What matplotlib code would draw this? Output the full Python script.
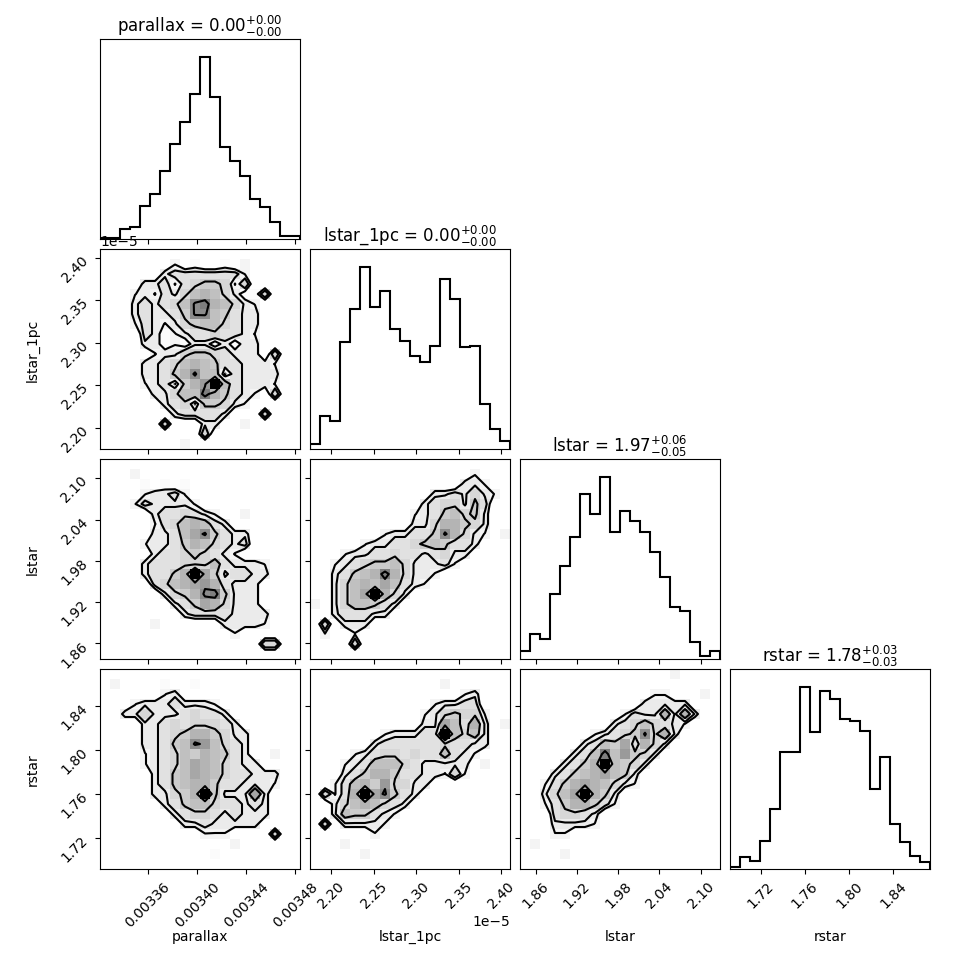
import numpy as np
import matplotlib
matplotlib.use("Agg")
import matplotlib.pyplot as plt
from matplotlib.colors import PowerNorm

names = ["parallax", "lstar_1pc", "lstar", "rstar"]
titles = [r"parallax = $0.00_{-0.00}^{+0.00}$",
          r"lstar_1pc = $0.00_{-0.00}^{+0.00}$",
          r"lstar = $1.97_{-0.05}^{+0.06}$",
          r"rstar = $1.78_{-0.03}^{+0.03}$"]

# axis ranges (also the histogram ranges, 20 bins each)
parallax_range = [0.003321, 0.003484]
lstar_1pc_range = [2.175e-5, 2.4104e-5]
lstar_range = [1.8372, 2.1281]
rstar_range = [1.6922, 1.8732]

parallax_ticks = [0.00336, 0.00340, 0.00344, 0.00348]
lstar_1pc_ticks = [2.20e-5, 2.25e-5, 2.30e-5, 2.35e-5, 2.40e-5]
lstar_ticks = [1.86, 1.92, 1.98, 2.04, 2.10]
rstar_ticks = [1.72, 1.76, 1.80, 1.84]

# 1D histogram counts
parallax_hist = [0.4, 0.4, 6, 7, 20, 27, 41, 57, 70, 87, 109, 85, 55, 47, 38, 24, 19, 10, 2, 2]
lstar_1pc_hist = [3, 20, 17, 64, 84, 109, 85, 95, 72, 65, 56, 52, 62, 102, 90, 61, 62, 27, 12, 5]
lstar_hist = [5, 15, 12, 39, 56, 73, 99, 87, 109, 76, 89, 83, 76, 64, 49, 31, 29, 10, 2, 5]
rstar_hist = [1, 7, 5, 17, 36, 70, 70, 109, 82, 107, 102, 90, 89, 83, 48, 67, 27, 16, 8, 4]

# 2D histogram counts, top row first, base-36 digits (k = 20)
grid_lstar1pc_parallax = [
    "00000000000000000000",
    "00000002010010200000",
    "00000034444444200000",
    "00003342456652500000",
    "00023243578753115000",
    "000343457bc875320000",
    "000343346bb764330000",
    "00024323567754330000",
    "00004312344544320000",
    "00003312133131330000",
    "00000233566543330500",
    "00003345787644333200",
    "000033468b7724333300",
    "0000234268ak74333200",
    "0000033577c864320500",
    "00000034526653200000",
    "00000003444430005000",
    "00000050003300200000",
    "00000000005000000000",
    "00000000200000000000",
]
grid_lstar_parallax = [
    "00000000000000000000",
    "00020000000000000000",
    "00001010100000000000",
    "00002334200000000000",
    "00024333320000000000",
    "00000344543200200000",
    "00000245787430000000",
    "0000033479b643300000",
    "00002334687543400000",
    "00000344565432000000",
    "00003444555743332000",
    "000034468k9634433000",
    "0000045789a843330000",
    "0000003568bc63330000",
    "00000003469853330000",
    "00000000344443333000",
    "00000200000033332000",
    "00000000000002000000",
    "00000000000000005500",
    "00000000000000000000",
]
grid_lstar_lstar1pc = [
    "00000000000000000000",
    "00000000000000002000",
    "00000000000000033200",
    "00000000000033435320",
    "00000000000345536400",
    "00000000002346756300",
    "00000000003358865300",
    "0000000233446b853202",
    "00000233445676443000",
    "00023344544345330000",
    "00234566753334200000",
    "0034678c853320000000",
    "00357879743200000000",
    "003579k8530000000000",
    "20357764300000000000",
    "00344433000000000000",
    "05033300000000000000",
    "02002000000000000000",
    "00005000000000000000",
    "00000000000000000000",
]
grid_rstar_parallax = [
    "00000000000000000000",
    "02000010010000000000",
    "00000023000000000000",
    "00023334333200000000",
    "00335333454430000000",
    "00003345455543000000",
    "00003345688653300000",
    "000033467ba754300000",
    "00002345768764300200",
    "00002345798754330000",
    "00000346798754433300",
    "00000346788644333200",
    "0000033568k633393000",
    "00000034677544343000",
    "00000003455434333000",
    "00000000334333330000",
    "00000000002220000500",
    "00000000000002000000",
    "00000000000100000000",
    "00000000000000000000",
]
grid_rstar_lstar1pc = [
    "00000000000000000000",
    "00000000000002000000",
    "00000000000000023000",
    "00000000000023344000",
    "00000000000235655200",
    "00000000000339748302",
    "0000000233344k757300",
    "00000034444445443300",
    "00002345545447432000",
    "00023477754333330200",
    "00034688644332520000",
    "0024786a553300000000",
    "05248k9b643000000000",
    "00357875430000000000",
    "00376643200000000000",
    "05033332000000000000",
    "00000020000000000000",
    "00020000000000000000",
    "00000200000000000000",
    "00000000000000000000",
]
grid_rstar_lstar = [
    "00000000000000020000",
    "00000000000000000000",
    "00000000000002200020",
    "00000000000033333000",
    "00000000002433838300",
    "00000000034575432000",
    "000000023456b5830000",
    "00000034769485300000",
    "00000347c7a653000000",
    "00003468k76530000000",
    "00034678976300000000",
    "00246898753200000000",
    "003579k8630000000000",
    "00246886420000000000",
    "00045543000000000000",
    "00033332000000000000",
    "00022000000000000000",
    "02000000000000000000",
    "00002000000000000000",
    "00000000000000000000",
]

ranges = [parallax_range, lstar_1pc_range, lstar_range, rstar_range]
ticks = [parallax_ticks, lstar_1pc_ticks, lstar_ticks, rstar_ticks]
hists = [parallax_hist, lstar_1pc_hist, lstar_hist, rstar_hist]
grids = {(1, 0): grid_lstar1pc_parallax, (2, 0): grid_lstar_parallax,
         (2, 1): grid_lstar_lstar1pc, (3, 0): grid_rstar_parallax,
         (3, 1): grid_rstar_lstar1pc, (3, 2): grid_rstar_lstar}
contour_levels = [2.1, 3.3, 5.5, 10.5]
nbins = 20
K = 4

fig, axes = plt.subplots(K, K, figsize=(9.7, 9.7), dpi=100)
fig.subplots_adjust(left=100/970, right=930/970, bottom=100/970, top=930/970,
                    wspace=0.05, hspace=0.05)

for i in range(K):
    for j in range(K):
        ax = axes[i, j]
        if j > i:
            ax.set_frame_on(False)
            ax.set_xticks([])
            ax.set_yticks([])
            continue
        edges_x = np.linspace(ranges[j][0], ranges[j][1], nbins + 1)
        if i == j:
            n = np.array(hists[i], dtype=float)
            ax.stairs(n, edges_x, color="k", linewidth=1.5)
            ax.set_xlim(ranges[j])
            ax.set_ylim(0, 1.1 * n.max())
            ax.set_yticks([])
            ax.set_title(titles[i], fontsize=12)
        else:
            edges_y = np.linspace(ranges[i][0], ranges[i][1], nbins + 1)
            H = np.array([[int(c, 36) for c in row] for row in grids[(i, j)]], dtype=float)[::-1]
            ax.pcolormesh(edges_x, edges_y, H, cmap="gray_r",
                          norm=PowerNorm(gamma=1.33, vmin=0, vmax=H.max()))
            xc = 0.5 * (edges_x[1:] + edges_x[:-1])
            yc = 0.5 * (edges_y[1:] + edges_y[:-1])
            ax.contour(xc, yc, H, contour_levels, colors="k", linewidths=1.5)
            ax.set_xlim(ranges[j])
            ax.set_ylim(ranges[i])
            ax.set_yticks(ticks[i])
            if j == 0:
                for l in ax.get_yticklabels():
                    l.set_rotation(45)
                ax.set_ylabel(names[i])
                ax.yaxis.set_label_coords(-0.3, 0.5)
            else:
                ax.set_yticklabels([])
        ax.set_xticks(ticks[j])
        if i == K - 1:
            for l in ax.get_xticklabels():
                l.set_rotation(45)
            ax.set_xlabel(names[j])
            ax.xaxis.set_label_coords(0.5, -0.3)
        else:
            ax.set_xticklabels([])

fig.savefig("out.png", dpi=100)
